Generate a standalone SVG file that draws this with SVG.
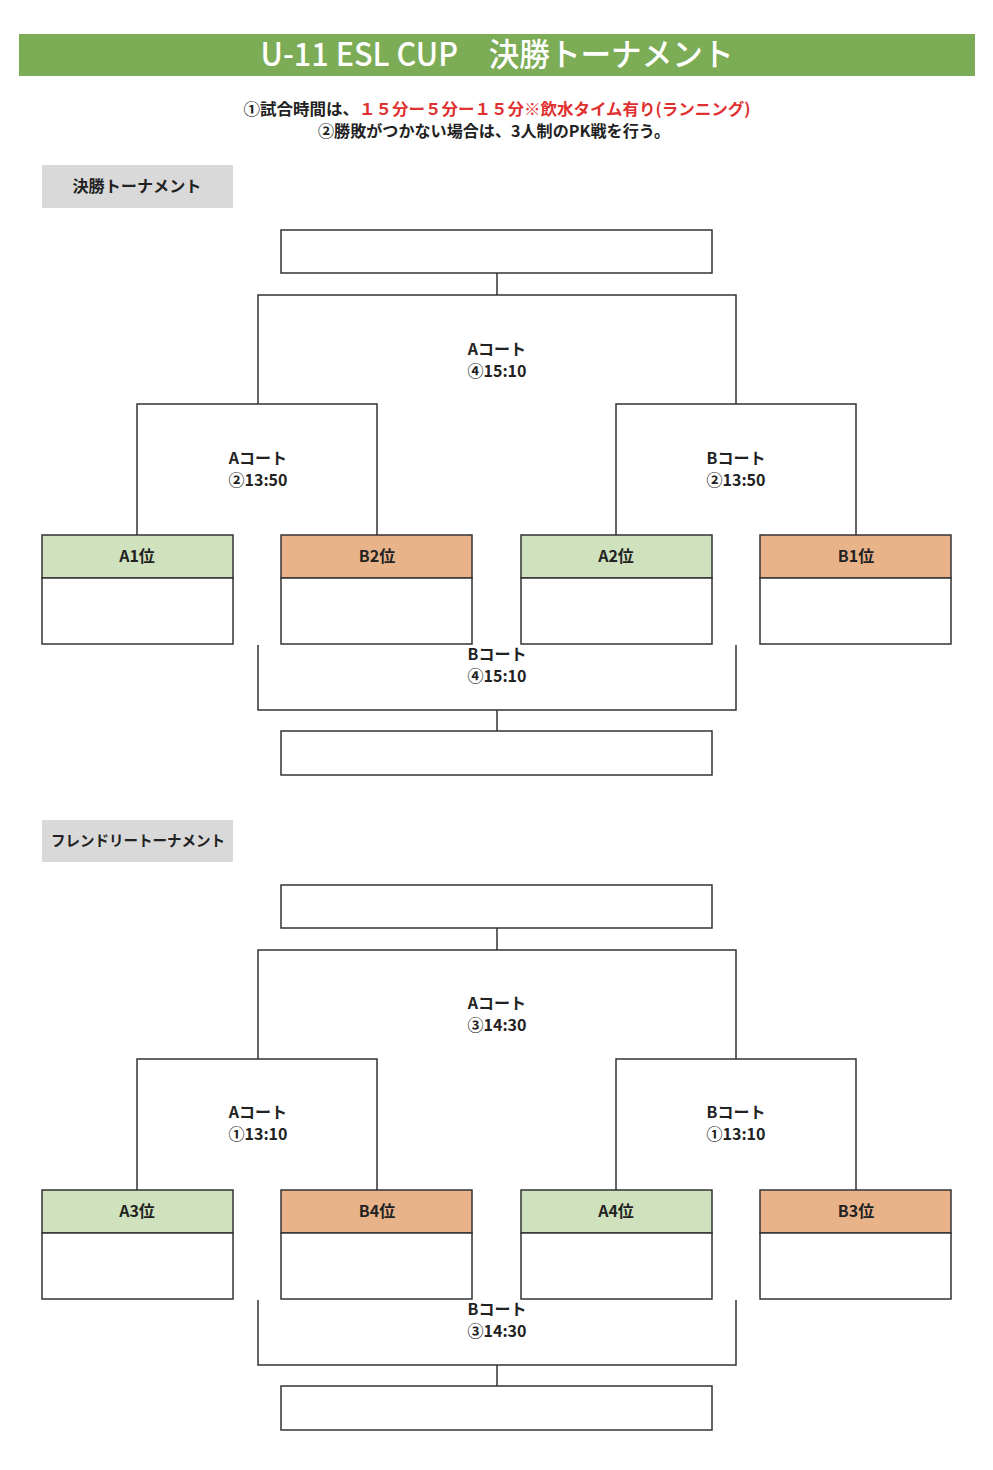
<svg xmlns="http://www.w3.org/2000/svg" width="993" height="1470" viewBox="0 0 993 1470">
<style>
.t{font-family:"Noto Sans CJK JP","Noto Sans",sans-serif;font-weight:bold;fill:#222;text-anchor:middle}
.s{font-size:16px}
.ln{fill:none;stroke:#333;stroke-width:1.5}
.box{fill:#fff;stroke:#333;stroke-width:1.5}
.g{fill:#cfe2bd;stroke:#333;stroke-width:1.5}
.o{fill:#e9b38a;stroke:#333;stroke-width:1.5}
.lab{fill:#d9d9d9}
</style>
<rect width="993" height="1470" fill="#fff"/>
<g id="title">
<rect x="19" y="34" width="956" height="42" fill="#7cac55"/>
<text x="497" y="66" font-family="Noto Sans CJK JP,sans-serif" font-size="32" font-weight="500" fill="#fff" text-anchor="middle" textLength="473" lengthAdjust="spacingAndGlyphs">U-11 ESL CUP　決勝トーナメント</text>
</g>
<g id="notes">
<text class="t" x="497" y="115" font-size="16" textLength="507" lengthAdjust="spacingAndGlyphs">①試合時間は、<tspan fill="#e03030">１５分ー５分ー１５分※飲水タイム有り(ランニング)</tspan></text>
<text class="t" x="494" y="137" font-size="16" textLength="352" lengthAdjust="spacingAndGlyphs">②勝敗がつかない場合は、3人制のPK戦を行う。</text>
</g>
<g id="sec1-label">
<rect class="lab" x="42" y="165" width="191" height="43"/>
<text class="t" x="137" y="192" font-size="16" textLength="129" lengthAdjust="spacingAndGlyphs">決勝トーナメント</text>
</g>
<g id="sec2-label">
<rect class="lab" x="42" y="820" width="191" height="42"/>
<text class="t" x="138" y="846" font-size="15" textLength="174" lengthAdjust="spacingAndGlyphs">フレンドリートーナメント</text>
</g>

<g id="connectors">
<path class="ln" d="M497 273V295M258 404V295H736V404M137 535V404H377V535M616 535V404H856V535M258 645V710H736V645M497 710V731"/>
<path class="ln" d="M497 928V950M258 1059V950H736V1059M137 1190V1059H377V1190M616 1190V1059H856V1190M258 1300V1365H736V1300M497 1365V1386"/>
</g>

<g id="final1-top"><rect class="box" x="281" y="230" width="431" height="43"/></g>
<g id="final1-bottom"><rect class="box" x="281" y="731" width="431" height="44"/></g>
<g id="final2-top"><rect class="box" x="281" y="885" width="431" height="43"/></g>
<g id="final2-bottom"><rect class="box" x="281" y="1386" width="431" height="44"/></g>

<g id="labels1">
<text class="t s" x="497" y="355">Aコート</text>
<text class="t s" x="497" y="377">④15:10</text>
<text class="t s" x="258" y="464">Aコート</text>
<text class="t s" x="258" y="486">②13:50</text>
<text class="t s" x="736" y="464">Bコート</text>
<text class="t s" x="736" y="486">②13:50</text>
<text class="t s" x="497" y="660">Bコート</text>
<text class="t s" x="497" y="682">④15:10</text>
</g>
<g id="labels2">
<text class="t s" x="497" y="1009">Aコート</text>
<text class="t s" x="497" y="1031">③14:30</text>
<text class="t s" x="258" y="1118">Aコート</text>
<text class="t s" x="258" y="1140">①13:10</text>
<text class="t s" x="736" y="1118">Bコート</text>
<text class="t s" x="736" y="1140">①13:10</text>
<text class="t s" x="497" y="1315">Bコート</text>
<text class="t s" x="497" y="1337">③14:30</text>
</g>

<g id="A1"><rect class="g" x="42" y="535" width="191" height="43"/><rect class="box" x="42" y="578" width="191" height="66"/><text class="t s" x="137" y="562">A1位</text></g>
<g id="B2"><rect class="o" x="281" y="535" width="191" height="43"/><rect class="box" x="281" y="578" width="191" height="66"/><text class="t s" x="377" y="562">B2位</text></g>
<g id="A2"><rect class="g" x="521" y="535" width="191" height="43"/><rect class="box" x="521" y="578" width="191" height="66"/><text class="t s" x="616" y="562">A2位</text></g>
<g id="B1"><rect class="o" x="760" y="535" width="191" height="43"/><rect class="box" x="760" y="578" width="191" height="66"/><text class="t s" x="856" y="562">B1位</text></g>

<g id="A3"><rect class="g" x="42" y="1190" width="191" height="43"/><rect class="box" x="42" y="1233" width="191" height="66"/><text class="t s" x="137" y="1217">A3位</text></g>
<g id="B4"><rect class="o" x="281" y="1190" width="191" height="43"/><rect class="box" x="281" y="1233" width="191" height="66"/><text class="t s" x="377" y="1217">B4位</text></g>
<g id="A4"><rect class="g" x="521" y="1190" width="191" height="43"/><rect class="box" x="521" y="1233" width="191" height="66"/><text class="t s" x="616" y="1217">A4位</text></g>
<g id="B3"><rect class="o" x="760" y="1190" width="191" height="43"/><rect class="box" x="760" y="1233" width="191" height="66"/><text class="t s" x="856" y="1217">B3位</text></g>
</svg>
